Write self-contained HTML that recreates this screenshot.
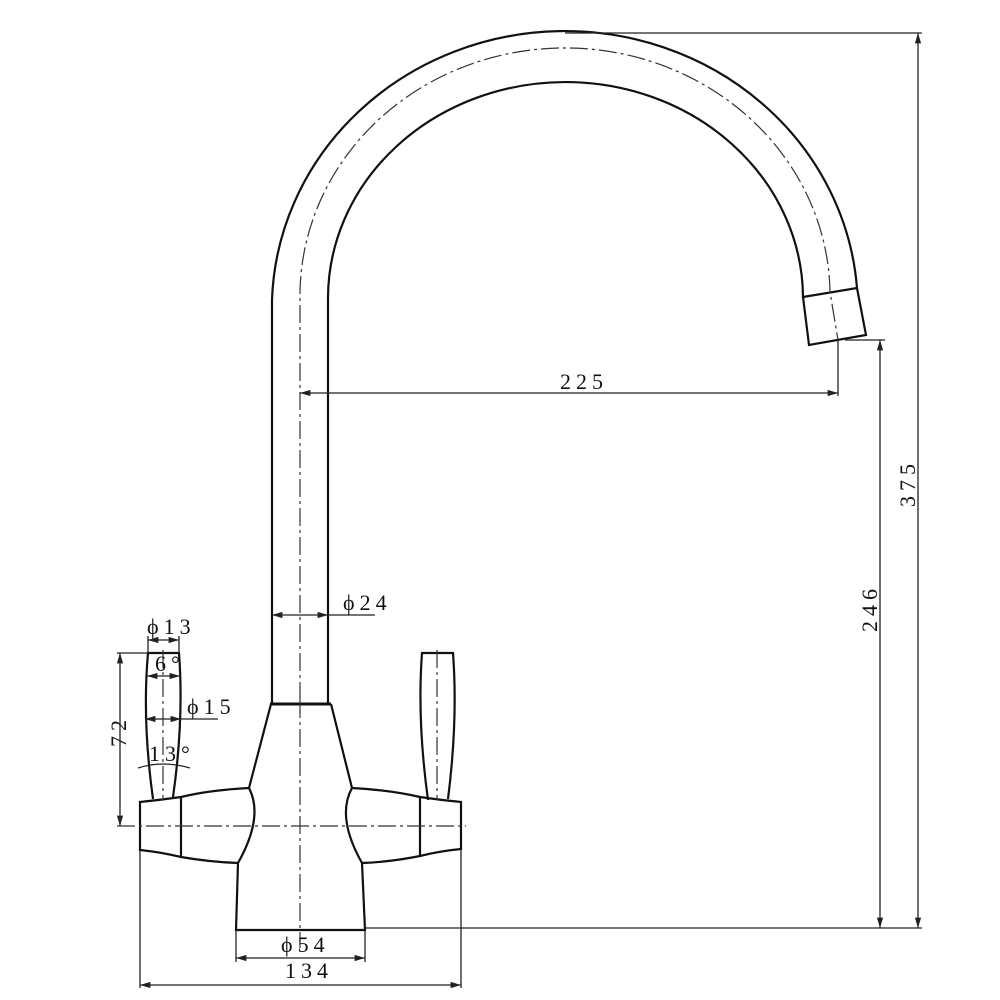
<!DOCTYPE html>
<html><head><meta charset="utf-8"><style>
html,body{margin:0;padding:0;background:#fff;}
svg{display:block;}
text{font-family:"Liberation Serif",serif;font-size:22px;fill:#111;letter-spacing:5px;}
</style></head><body>
<svg width="1000" height="1000" viewBox="0 0 1000 1000" xmlns="http://www.w3.org/2000/svg">
<defs>
<marker id="a" viewBox="0 0 10 6" refX="10" refY="3" markerWidth="8" markerHeight="5" orient="auto-start-reverse"><path d="M0,0L10,3L0,6z" fill="#222"/></marker>
</defs>
<g fill="none" stroke="#111" stroke-width="2.2">
<path d="M272,703 L272,300 A293,278 0 0 1 857,288"/>
<path d="M328,703 L328,300 A237,216 0 0 1 803,297"/>
<path d="M803,297 L857,288 L866,335 L809,345 Z"/>
<line x1="270" y1="704" x2="331" y2="704" stroke-width="3"/>
<path d="M271,704 L249,788 Q264,817 238,863 L236,930 L365,930 L362,863 Q336,817 352,788 L331,704"/>
<path d="M249,788 Q210,790 181,797 Q160,800 140,802 L140,850 Q160,852 181,857 Q210,862 238,863"/>
<line x1="181" y1="797" x2="181" y2="857"/>
<path d="M352,788 Q390,790 420,797 Q440,800 461,802 L461,849 Q440,851 420,856 Q390,862 362,863"/>
<line x1="420" y1="797" x2="420" y2="856"/>
<path d="M153,799 Q142,720 148,653 L179,653 Q184,720 173,797"/>
<path d="M428,800 Q417,720 422,653 L453,653 Q458,720 448,799"/>
</g>
<g fill="none" stroke="#333" stroke-width="1.2" stroke-dasharray="18,4,3,4">
<path d="M300,700 L300,300 A265,248 0 0 1 830,292 L838,340"/>
<line x1="300" y1="700" x2="300" y2="948"/>
<line x1="117" y1="826" x2="466" y2="826"/>
<line x1="163" y1="650" x2="163" y2="800"/>
<line x1="437" y1="650" x2="437" y2="800"/>
</g>
<g fill="none" stroke="#222" stroke-width="1.3">
<line x1="565" y1="33" x2="922" y2="33"/>
<line x1="918" y1="33" x2="918" y2="928" marker-start="url(#a)" marker-end="url(#a)"/>
<line x1="365" y1="928" x2="922" y2="928"/>
<line x1="845" y1="340" x2="885" y2="340"/>
<line x1="880" y1="340" x2="880" y2="928" marker-start="url(#a)" marker-end="url(#a)"/>
<line x1="838" y1="340" x2="838" y2="396"/>
<line x1="300" y1="393" x2="838" y2="393" marker-start="url(#a)" marker-end="url(#a)"/>
<line x1="272" y1="615" x2="328" y2="615" marker-start="url(#a)" marker-end="url(#a)"/>
<line x1="328" y1="615" x2="375" y2="615"/>
<line x1="117" y1="653" x2="150" y2="653"/>
<line x1="120" y1="653" x2="120" y2="826" marker-start="url(#a)" marker-end="url(#a)"/>
<line x1="148" y1="636" x2="148" y2="653"/>
<line x1="179" y1="636" x2="179" y2="653"/>
<line x1="148" y1="640" x2="179" y2="640" marker-start="url(#a)" marker-end="url(#a)"/>
<line x1="147" y1="676" x2="180" y2="676" marker-start="url(#a)" marker-end="url(#a)"/>
<line x1="145" y1="719" x2="181" y2="719" marker-start="url(#a)" marker-end="url(#a)"/>
<line x1="181" y1="719" x2="218" y2="719"/>
<path d="M138,768 Q163,760 190,768"/>
<line x1="236" y1="930" x2="236" y2="962"/>
<line x1="365" y1="930" x2="365" y2="962"/>
<line x1="236" y1="958" x2="365" y2="958" marker-start="url(#a)" marker-end="url(#a)"/>
<line x1="140" y1="850" x2="140" y2="988"/>
<line x1="461" y1="850" x2="461" y2="988"/>
<line x1="140" y1="985" x2="461" y2="985" marker-start="url(#a)" marker-end="url(#a)"/>
</g>
<text x="560" y="389">225</text>
<text transform="translate(915,507) rotate(-90)">375</text>
<text transform="translate(877,632) rotate(-90)">246</text>
<text x="343" y="610">ϕ24</text>
<text x="147" y="634">ϕ13</text>
<text x="155" y="671">6°</text>
<text x="187" y="714">ϕ15</text>
<text x="149" y="761">13°</text>
<text transform="translate(126,747) rotate(-90)">72</text>
<text x="281" y="952">ϕ54</text>
<text x="285" y="978">134</text>
</svg>
</body></html>
